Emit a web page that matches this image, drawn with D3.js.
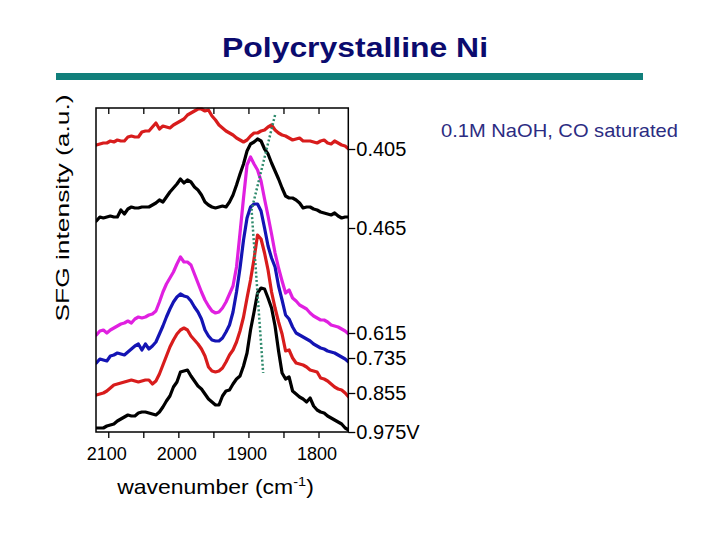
<!DOCTYPE html>
<html>
<head>
<meta charset="utf-8">
<script src="https://cdn.jsdelivr.net/npm/d3@7"></script>
<style>
  html, body { margin: 0; padding: 0; background: #ffffff; }
  svg { display: block; font-family: "Liberation Sans", Arial, sans-serif; }
</style>
</head>
<body>
<svg id="chart" width="720" height="540"></svg>
<script>
// ---- data (SFG spectra, stacked, arbitrary units) ----
const wavenumbers = [2117,2112,2107,2102,2097,2092,2087,2082,2077,2072,2067,2062,2057,2052,2047,2042,2037,2032,2027,2022,2017,2012,2007,2002,1997,1992,1987,1982,1977,1972,1967,1962,1957,1952,1947,1942,1937,1932,1927,1922,1917,1912,1907,1902,1897,1892,1887,1882,1877,1872,1867,1862,1857,1852,1847,1842,1837,1832,1827,1822,1817,1812,1807,1802,1797,1792,1787,1782,1777,1772,1767,1762,1757];

const s405 = [28.7,28.8,28.9,28.9,29.1,29.0,29.2,29.1,29.1,29.5,29.6,29.5,29.5,30.0,30.1,30.1,30.5,30.9,30.3,30.6,30.5,30.4,30.7,30.9,31.1,31.3,31.7,31.9,32.1,32.3,32.3,32.1,32.2,31.6,31.2,30.7,30.4,30.1,29.9,29.7,29.4,29.2,29.0,29.2,29.6,29.9,29.9,30.1,30.2,30.5,30.7,30.2,29.9,29.7,29.6,29.4,29.2,29.3,29.4,29.1,29.1,29.1,29.0,28.9,29.1,29.2,28.9,28.8,29.1,28.9,28.7,28.6,28.3];
const s465 = [21.1,21.5,21.4,21.5,21.6,21.5,21.5,22.2,21.8,22.3,22.5,22.4,22.4,22.5,22.5,22.5,22.7,22.9,23.2,23.0,23.5,24.0,24.4,24.8,25.3,24.9,25.2,25.0,24.5,24.2,23.7,23.0,22.7,22.5,22.4,22.5,22.6,22.5,23.0,23.7,24.7,25.8,26.8,28.1,28.8,29.0,29.3,29.1,28.3,27.8,26.9,26.1,25.3,24.4,23.6,23.4,23.4,23.2,22.9,22.4,22.5,22.5,22.3,22.2,22.0,21.9,21.8,21.7,21.9,21.6,21.4,21.5,21.5];
const s615 = [9.7,10.1,10.2,9.9,10.2,10.4,10.6,10.8,10.9,11.1,10.9,11.3,11.5,11.4,11.5,11.7,11.8,12.1,13.0,14.0,14.8,15.4,16.0,16.8,17.5,17.0,17.0,16.7,15.8,14.9,14.0,13.2,12.6,12.1,11.9,12.0,12.4,13.0,13.8,14.6,16.5,19.9,23.4,26.7,27.5,26.8,26.2,25.1,23.3,21.6,19.8,17.9,16.4,15.1,13.9,14.2,13.4,13.1,12.7,12.5,12.3,11.9,11.6,11.4,11.2,11.2,11.0,10.7,10.6,10.5,10.3,10.1,9.8];
const s735 = [6.9,7.3,7.2,7.1,7.6,7.7,7.9,7.8,7.7,8.0,8.3,8.6,8.8,8.2,8.8,8.3,8.6,9.0,9.8,10.6,11.5,12.3,13.0,13.5,13.8,13.6,13.5,13.1,12.5,12.0,11.3,10.2,9.6,9.2,9.1,9.1,9.4,10.0,10.7,12.0,14.0,16.4,19.2,21.4,22.5,22.8,22.8,22.1,20.4,18.6,17.4,16.5,14.6,13.2,11.7,11.3,10.5,9.9,9.7,9.5,9.3,9.1,8.8,8.6,8.4,8.3,8.1,8.0,7.9,7.7,7.5,7.3,7.0];
const s855 = [3.7,3.8,3.9,4.1,4.4,4.7,4.8,4.9,5.0,5.1,5.2,5.1,5.0,5.1,5.2,5.2,4.8,5.1,5.8,6.7,7.6,8.5,9.2,9.8,10.2,10.4,10.2,9.6,9.2,8.8,8.3,7.6,6.5,6.1,6.0,6.1,6.4,7.0,7.7,8.2,9.0,10.1,11.5,13.4,15.2,17.3,19.7,19.3,17.9,16.2,14.0,12.4,11.0,9.8,8.1,8.2,7.4,6.9,6.8,6.7,6.5,6.2,6.1,6.0,5.4,5.3,5.1,4.8,4.5,4.3,4.2,3.9,3.5];
const s975 = [0.4,0.4,0.4,0.6,0.7,0.8,1.1,1.3,1.5,1.7,1.6,1.6,1.9,2.0,2.0,1.9,1.8,1.7,2.0,2.5,3.1,3.6,4.5,5.0,6.0,6.1,6.2,5.6,5.1,4.6,4.3,3.8,3.3,3.0,2.7,2.7,3.6,4.1,4.2,4.8,5.3,5.6,6.6,7.9,10.2,12.0,13.9,14.4,14.3,13.4,12.4,10.6,8.1,5.9,5.3,5.5,4.1,3.8,3.5,3.3,3.0,3.4,2.6,2.2,2.0,1.9,1.6,1.4,1.2,1.0,0.8,0.4,0.2];

const seriesNames = ["0.405","0.465","0.615","0.735","0.855","0.975V"];
const seriesColors = ["#d81c1c","#000000","#e020e0","#1414b4","#d81c1c","#000000"];
const seriesValues = [s405, s465, s615, s735, s855, s975];

// right-hand potential labels sit at each spectrum's baseline
const labelPositions = [28.3, 20.4, 9.9, 7.4, 3.9, 0.0];

// peak-shift guide (dotted) in data units
const guideWavenumbers = [1862, 1895.5, 1879];
const guideValues = [31.7, 22.2, 5.9];

const xTickValues = [2100, 2050, 2000, 1950, 1900, 1850, 1800];
const xTickLabels = ["2100", "", "2000", "", "1900", "", "1800"];

const titleText = "Polycrystalline Ni";
const noteText = "0.1M NaOH, CO saturated";
const yTitle = "SFG intensity (a.u.)";

// ---- drawing ----
const svg = d3.select("#chart");
const L = 96, R = 348.3, T = 108, B = 432;

const x = d3.scaleLinear().domain([2117.5, 1757.5]).range([L, R]);
const y = d3.scaleLinear().domain([0, 32.4]).range([B, T]);

// title
svg.append("text")
  .attr("x", 355).attr("y", 57)
  .attr("text-anchor", "middle")
  .attr("font-size", 28).attr("font-weight", "bold")
  .attr("fill", "#0b0b6e")
  .attr("textLength", 266).attr("lengthAdjust", "spacingAndGlyphs")
  .text(titleText);

// teal rule
svg.append("rect")
  .attr("x", 56).attr("y", 73).attr("width", 587).attr("height", 7)
  .attr("fill", "#117f7b");

// note
svg.append("text")
  .attr("x", 441).attr("y", 137)
  .attr("font-size", 19)
  .attr("fill", "#2c2c82")
  .attr("textLength", 237).attr("lengthAdjust", "spacingAndGlyphs")
  .text(noteText);

// clip
svg.append("clipPath").attr("id", "plotclip")
  .append("rect").attr("x", L).attr("y", T - 4).attr("width", R - L).attr("height", B - T + 4);

const line = d3.line()
  .x((d, i) => x(wavenumbers[i]))
  .y(d => y(d));

const g = svg.append("g").attr("clip-path", "url(#plotclip)");
seriesValues.forEach((vals, k) => {
  g.append("path")
    .datum(vals)
    .attr("d", line)
    .attr("fill", "none")
    .attr("stroke", seriesColors[k])
    .attr("stroke-width", 3.2)
    .attr("stroke-linejoin", "round")
    .attr("stroke-linecap", "round");
});

// guide dotted line
const guide = d3.line()
  .x((d, i) => x(guideWavenumbers[i]))
  .y(d => y(d));
svg.append("path")
  .datum(guideValues)
  .attr("d", guide)
  .attr("fill", "none")
  .attr("stroke", "#2e8a6c")
  .attr("stroke-width", 2.5)
  .attr("stroke-dasharray", "2,2.2");

// frame
svg.append("rect")
  .attr("x", L).attr("y", T).attr("width", R - L).attr("height", B - T)
  .attr("fill", "none").attr("stroke", "#000").attr("stroke-width", 1.5);

// top ticks (inward)
const topAxis = svg.append("g").attr("transform", `translate(0,${T})`)
  .call(d3.axisTop(x).tickValues(xTickValues).tickSize(-6).tickFormat(""));
topAxis.select(".domain").remove();
topAxis.selectAll("line").attr("stroke-width", 1.3);

// bottom axis
const botAxis = svg.append("g").attr("transform", `translate(0,${B})`)
  .call(d3.axisBottom(x).tickValues(xTickValues).tickSize(6).tickPadding(9)
    .tickFormat((d, i) => xTickLabels[i]));
botAxis.select(".domain").remove();
botAxis.selectAll("line").attr("stroke-width", 1.3);
botAxis.selectAll("text")
  .attr("font-size", 18).attr("font-family", "'Liberation Sans', Arial, sans-serif")
  .attr("fill", "#000").attr("dx", -2);

// right axis with potentials
const rightAxis = svg.append("g").attr("transform", `translate(${R},0)`)
  .call(d3.axisRight(y).tickValues(labelPositions).tickSize(7).tickPadding(1)
    .tickFormat((d, i) => seriesNames[i]));
rightAxis.select(".domain").remove();
rightAxis.selectAll("line").attr("stroke-width", 1.3);
rightAxis.selectAll("text")
  .attr("font-size", 20).attr("font-family", "'Liberation Sans', Arial, sans-serif")
  .attr("fill", "#000");

// x title with superscript
const xt = svg.append("text")
  .attr("transform", "translate(215.5,494) scale(1.12,1)")
  .attr("text-anchor", "middle")
  .attr("font-size", 20.5).attr("fill", "#000");
xt.append("tspan").text("wavenumber (cm");
xt.append("tspan").attr("dy", -8).attr("font-size", 13).text("-1");
xt.append("tspan").attr("dy", 8).text(")");

// y title
svg.append("text")
  .attr("transform", "translate(69,208) rotate(-90)")
  .attr("text-anchor", "middle")
  .attr("font-size", 19).attr("fill", "#000")
  .attr("textLength", 227).attr("lengthAdjust", "spacingAndGlyphs")
  .text(yTitle);
</script>
</body>
</html>
